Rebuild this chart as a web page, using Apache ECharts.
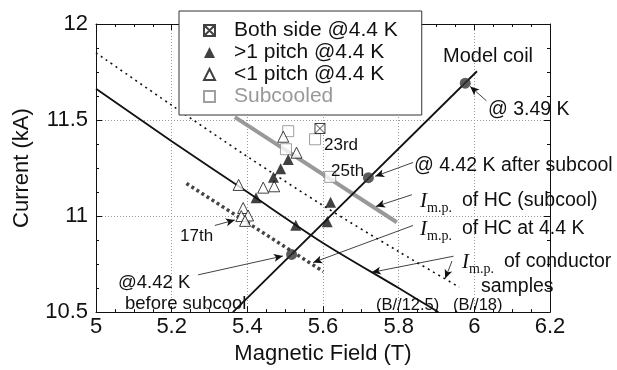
<!DOCTYPE html>
<html>
<head>
<meta charset="utf-8">
<script src="https://cdn.jsdelivr.net/npm/echarts@6/dist/echarts.min.js"></script>
<style>
html,body{margin:0;padding:0;background:#fff;}
#chart{width:617px;height:370px;}
</style>
</head>
<body>
<div id="chart"></div>
<script>
// axis range
var xMin = 5, xMax = 6.2, xStep = 0.2;
var yMin = 10.5, yMax = 12, yStep = 0.5;

// quench points [B (T), I (kA)]
var bothSide = [[5.592, 11.456]];
var overPitch = [[5.508, 11.294], [5.488, 11.246], [5.469, 11.202], [5.423, 11.095], [5.620, 11.072], [5.611, 10.971], [5.528, 10.952]];
var underPitch = [[5.495, 11.413], [5.530, 11.330], [5.377, 11.162], [5.442, 11.148], [5.471, 11.155], [5.389, 11.042], [5.402, 11.003], [5.384, 11.000], [5.394, 10.975]];
var subcooled = [[5.508, 11.442], [5.579, 11.400], [5.502, 11.348], [5.619, 11.204]];

// I m.p. lines
var hcSubcool = [[5.367, 11.515], [5.795, 10.968]];
var hc44 = [[5.239, 11.170], [5.601, 10.711]];
var cond125 = [[5.0, 11.663], [5.2, 11.390], [5.4, 11.125], [5.6, 10.860], [5.8, 10.625], [5.905, 10.500]];
var cond18 = [[5.0, 11.850], [5.2, 11.577], [5.4, 11.310], [5.6, 11.055], [5.8, 10.815], [5.96, 10.630]];

// model coil load line and operating points
var coilLine = [[5.362, 10.5], [6.007, 11.754]];
var coilPts = [[5.517, 10.80], [5.720, 11.20], [5.976, 11.692]];

// leader arrows [from, to]
var arrows = [
  [[6.032, 11.600], [5.989, 11.675]],
  [[5.838, 11.279], [5.738, 11.207]],
  [[5.835, 11.111], [5.740, 11.050]],
  [[5.838, 10.951], [5.574, 10.758]],
  [[5.945, 10.791], [5.729, 10.707]],
  [[5.941, 10.766], [5.923, 10.675]],
  [[5.270, 10.694], [5.494, 10.792]],
  [[5.314, 10.951], [5.367, 10.980]]
];

var FONT = '"Liberation Sans", Arial, sans-serif';
var SERIF = '"Liberation Serif", "Times New Roman", serif';
var crossSq = 'path://M0,0L10,0L10,10L0,10Z M0,0L10,10 M10,0L0,10';

function txt(x, y, s, size, extra) {
  var st = {text: s, x: x, y: y, font: (size || 19.5) + 'px ' + FONT, fill: '#111', textVerticalAlign: 'middle'};
  if (extra) { for (var k in extra) st[k] = extra[k]; }
  return {type: 'text', z: 50, silent: true, style: st};
}
// I_m.p. label made from three text pieces
function imp(x, y, rest) {
  return [
    {type: 'text', z: 50, silent: true, style: {text: 'I', x: x, y: y, font: 'italic 21px ' + SERIF, fill: '#111', textVerticalAlign: 'middle'}},
    {type: 'text', z: 50, silent: true, style: {text: 'm.p.', x: x + 7, y: y + 7, font: '14px ' + SERIF, fill: '#111', textVerticalAlign: 'middle'}},
    txt(x + 42, y, rest)
  ];
}

var graphics = [
  txt(443, 56, 'Model coil', 20),
  txt(488, 110, '@ 3.49 K'),
  txt(414, 166, '@ 4.42 K after subcool'),
  txt(376, 305, '(B//12.5)', 16.5),
  txt(453, 305, '(B//18)', 16.5),
  txt(481, 287, 'samples'),
  txt(118, 283, '@4.42 K', 18.5),
  txt(125, 304, 'before subcool', 18.5),
  txt(180, 236, '17th', 17),
  txt(324, 145, '23rd', 17),
  txt(331, 171, '25th', 17)
].concat(imp(420, 201, 'of HC (subcool)'))
 .concat(imp(420, 229, 'of HC at 4.4 K'))
 .concat(imp(462, 262, 'of conductor'));

var myChart = echarts.init(document.getElementById('chart'));

var axisCommon = {
  type: 'value',
  axisLine: {show: true, lineStyle: {color: '#111', width: 1}},
  axisTick: {show: true, inside: true, length: 6, lineStyle: {color: '#111'}},
  minorTick: {show: true, splitNumber: 4, length: 3, lineStyle: {color: '#111'}},
  splitLine: {show: false}
};

option = {
  animation: false,
  backgroundColor: '#fff',
  textStyle: {fontFamily: FONT},
  grid: {left: 96, right: 67, top: 24, bottom: 49},
  legend: {
    orient: 'vertical',
    left: 179, top: 11,
    padding: [9, 24, 8, 24],
    itemWidth: 11, itemHeight: 11,
    itemGap: 1,
    borderColor: '#333', borderWidth: 1,
    backgroundColor: '#fff',
    z: 40,
    textStyle: {fontSize: 21, color: '#111', fontFamily: FONT, lineHeight: 19.5, padding: [0, 0, 0, 14]},
    data: [
      {name: 'Both side @4.4 K'},
      {name: '>1 pitch @4.4 K'},
      {name: '<1 pitch @4.4 K'},
      {name: 'Subcooled', textStyle: {color: '#999'}}
    ]
  },
  xAxis: [
    Object.assign({}, axisCommon, {
      min: xMin, max: xMax, interval: xStep, position: 'bottom',
      name: 'Magnetic Field (T)', nameLocation: 'middle', nameGap: 28,
      nameTextStyle: {fontSize: 22, color: '#111', fontFamily: FONT},
      axisLabel: {fontSize: 22, color: '#111', margin: 4, fontFamily: FONT},
      splitLine: {show: true, lineStyle: {color: '#999', type: [1, 2], width: 1}}
    }),
    Object.assign({}, axisCommon, {
      min: xMin, max: xMax, interval: xStep, position: 'top', axisLabel: {show: false}
    })
  ],
  yAxis: [
    Object.assign({}, axisCommon, {
      min: yMin, max: yMax, interval: yStep, position: 'left',
      name: 'Current (kA)', nameLocation: 'middle', nameGap: 63,
      nameTextStyle: {fontSize: 22, color: '#111', fontFamily: FONT},
      axisLabel: {fontSize: 22, color: '#111', margin: 8, fontFamily: FONT},
      splitLine: {show: true, lineStyle: {color: '#999', type: [1, 2], width: 1}}
    }),
    Object.assign({}, axisCommon, {
      min: yMin, max: yMax, interval: yStep, position: 'right', axisLabel: {show: false}
    })
  ],
  series: [
    {type: 'line', name: 'cond18', data: cond18, symbol: 'none', smooth: 0.3,
     lineStyle: {color: '#111', width: 1.6, type: [2, 4]}},
    {type: 'line', name: 'cond125', data: cond125, symbol: 'none', smooth: 0.3,
     lineStyle: {color: '#111', width: 1.8}},
    {type: 'line', name: 'hcSubcool', data: hcSubcool, symbol: 'none',
     lineStyle: {color: '#999', width: 4}},
    {type: 'line', name: 'hc44', data: hc44, symbol: 'none',
     lineStyle: {color: '#444', width: 3.5, type: [3, 3]}},
    {type: 'line', name: 'coil', data: coilLine, symbol: 'none',
     lineStyle: {color: '#111', width: 1.8},
     markLine: {
       silent: true, symbol: ['none', 'arrow'], symbolSize: [6, 9],
       label: {show: false},
       lineStyle: {color: '#111', width: 0.8, type: 'solid'},
       data: arrows.map(function (a) { return [{coord: a[0]}, {coord: a[1]}]; })
     }},
    {type: 'scatter', name: 'coilPts', data: coilPts, symbol: 'circle', symbolSize: 11,
     itemStyle: {color: '#333'}, z: 5},
    {type: 'scatter', name: 'Subcooled', data: subcooled, symbol: 'rect', symbolSize: 11,
     itemStyle: {color: '#fff', borderColor: '#888', borderWidth: 1}, z: 4},
    {type: 'scatter', name: '<1 pitch @4.4 K', data: underPitch, symbol: 'triangle', symbolSize: 11,
     itemStyle: {color: '#fff', borderColor: '#111', borderWidth: 1}, z: 4},
    {type: 'scatter', name: '>1 pitch @4.4 K', data: overPitch, symbol: 'triangle', symbolSize: 11,
     itemStyle: {color: '#111'}, z: 4},
    {type: 'scatter', name: 'Both side @4.4 K', data: bothSide, symbol: crossSq, symbolSize: 10,
     itemStyle: {color: '#fff', borderColor: '#111', borderWidth: 1}, z: 4}
  ],
  graphic: graphics
};

myChart.setOption(option);
</script>
</body>
</html>
